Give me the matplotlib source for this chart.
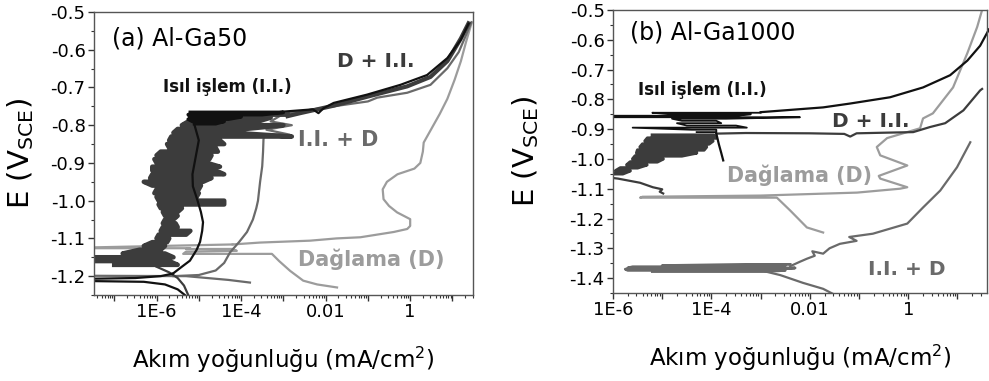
import numpy as np
import matplotlib
matplotlib.use("Agg")
import matplotlib.pyplot as plt
from matplotlib.ticker import FixedLocator, LogLocator, NullFormatter, MultipleLocator

plt.rcParams['font.family'] = ['DejaVu Sans']
plt.rcParams['axes.unicode_minus'] = False

C_HT = '#111111'     # Isıl işlem (I.I.)
C_EHT = '#3c3c3c'    # D + I.I.
C_HTE = '#6a6a6a'    # I.I. + D
C_ETCH = '#9c9c9c'   # Dağlama (D)

# ---------------- (a) Al-Ga50 : log10(i), E ----------------
a_ht_cath_logi = [-5.33, -5.5, -5.8, -6.3, -7.6, -7.6, -6.5, -5.9, -5.61]
a_ht_cath_E = [-1.25, -1.235, -1.222, -1.215, -1.213, -1.207, -1.205, -1.2, -1.193]
a_ht_anod_logi = [-5.61, -5.4, -5.21, -5.05, -4.97, -4.92, -4.9, -4.95, -5.04, -5.14,
                  -5.15, -5.1, -5.05, -5.0, -5.1]
a_ht_anod_E = [-1.193, -1.175, -1.159, -1.13, -1.109, -1.08, -1.057, -1.03, -0.996, -0.962,
               -0.93, -0.9, -0.87, -0.84, -0.80]
a_ht_band_E = [-0.796, -0.790, -0.784, -0.778, -0.772, -0.766]
a_ht_band_lo = [-5.1, -5.15, -5.25, -5.2, -5.25, -5.2]
a_ht_band_hi = [-4.6, -4.4, -4.3, -4.0, -3.5, -3.0]
a_ht_top_logi = [-3.0, -2.3, -2.17, -2.05, -1.81, -1.02, -0.23, 0.4, 0.88, 1.19, 1.38]
a_ht_top_E = [-0.764, -0.758, -0.768, -0.755, -0.741, -0.719, -0.693, -0.667, -0.622, -0.575, -0.531]

a_eht_cath_logi = [-5.25, -5.35, -5.5, -5.7, -6.0]
a_eht_cath_E = [-1.25, -1.225, -1.205, -1.19, -1.175]
a_eht_band_E = [-1.170, -1.160, -1.150, -1.140, -1.130, -1.120, -1.110, -1.100, -1.090,
                -1.080, -1.070, -1.060, -1.050, -1.040, -1.030, -1.020, -1.010, -1.000,
                -0.990, -0.980, -0.970, -0.960, -0.950, -0.940, -0.930, -0.920, -0.910,
                -0.900, -0.890, -0.880, -0.870, -0.860, -0.850, -0.840, -0.830, -0.820,
                -0.810, -0.800, -0.790, -0.780, -0.772]
a_eht_band_lo = [-7.0, -7.6, -7.6, -6.8, -6.4, -6.3, -6.1, -6.0, -5.95, -5.9, -5.85, -5.85,
                 -5.8, -5.8, -5.85, -5.9, -5.95, -5.95, -6.0, -6.05, -6.0, -6.1, -6.3, -6.15,
                 -6.1, -6.1, -6.1, -6.0, -6.05, -6.0, -5.9, -5.7, -5.75, -5.7, -5.65, -5.6,
                 -5.5, -5.4, -5.25, -5.1, -5.2]
a_eht_band_hi = [-5.5, -5.7, -5.6, -5.8, -5.9, -5.8, -5.75, -5.7, -5.3, -5.2, -5.5, -5.55,
                 -5.6, -5.5, -5.5, -5.4, -4.4, -4.4, -5.05, -5.0, -5.0, -4.95, -4.9, -4.7,
                 -4.4, -4.6, -4.5, -4.8, -4.75, -4.7, -4.55, -4.6, -4.4, -4.5, -2.8, -4.2,
                 -3.9, -3.0, -3.6, -3.3, -2.9]
a_eht_top_logi = [-2.9, -2.6, -1.8, -1.0, -0.07, 0.48, 0.88, 1.03, 1.2, 1.38]
a_eht_top_E = [-0.776, -0.768, -0.748, -0.724, -0.697, -0.672, -0.63, -0.602, -0.57, -0.53]

a_hte_cath_logi = [-3.79, -4.3, -4.8, -5.3, -7.6]
a_hte_cath_E = [-1.217, -1.21, -1.205, -1.2, -1.199]
a_hte_anod_logi = [-5.6, -5.0, -4.6, -4.4, -4.26, -4.05, -3.86, -3.72, -3.64, -3.6, -3.55,
                   -3.5, -3.48, -3.47, -3.45, -2.85, -3.4, -2.8, -3.3, -3.0, -2.0, -1.0,
                   -0.78, -0.07, 0.48, 0.88, 1.15, 1.45]
a_hte_anod_E = [-1.2, -1.197, -1.185, -1.165, -1.137, -1.11, -1.083, -1.05, -1.02, -1.0,
                -0.95, -0.909, -0.87, -0.838, -0.825, -0.825, -0.812, -0.80, -0.79, -0.77,
                -0.753, -0.737, -0.727, -0.714, -0.693, -0.649, -0.606, -0.527]

a_etch_cath_logi = [-1.73, -2.2, -2.53, -2.84, -3.1, -3.27, -4.3, -5.37, -5.3, -4.1, -4.2,
                    -5.3, -5.2, -7.6, -7.6, -4.2]
a_etch_cath_E = [-1.23, -1.222, -1.212, -1.186, -1.16, -1.141, -1.141, -1.141, -1.135,
                 -1.133, -1.128, -1.128, -1.126, -1.126, -1.124, -1.116]
a_etch_anod_logi = [-4.2, -3.55, -2.37, -1.74, -1.18, -0.39, -0.07, 0.0, 0.0, -0.31, -0.5,
                    -0.63, -0.65, -0.55, -0.3, 0.1, 0.24, 0.3, 0.32, 0.5, 0.7, 0.88, 1.05,
                    1.2, 1.32, 1.45]
a_etch_anod_E = [-1.116, -1.111, -1.106, -1.1, -1.097, -1.083, -1.075, -1.067, -1.049,
                 -1.031, -1.014, -0.996, -0.97, -0.95, -0.93, -0.915, -0.9, -0.87, -0.846,
                 -0.81, -0.77, -0.73, -0.68, -0.63, -0.58, -0.53]

# ---------------- (b) Al-Ga1000 : log10(i), E ----------------
b_ht_tail_logi = [-3.76, -3.8, -3.85, -3.9]
b_ht_tail_E = [-1.005, -0.98, -0.95, -0.915]
b_ht_band_E = [-0.910, -0.902, -0.895, -0.888, -0.880, -0.872, -0.865, -0.860, -0.855,
               -0.850, -0.845]
b_ht_band_lo = [-4.3, -4.4, -5.6, -4.5, -4.7, -4.6, -4.8, -6.2, -6.2, -4.8, -5.2]
b_ht_band_hi = [-3.9, -3.9, -3.28, -3.5, -3.8, -3.9, -3.7, -2.2, -3.5, -3.2, -3.0]
b_ht_top_logi = [-3.0, -1.73, -1.18, -0.37, 0.3, 0.85, 1.2, 1.46, 1.64]
b_ht_top_E = [-0.843, -0.827, -0.814, -0.793, -0.76, -0.719, -0.67, -0.62, -0.565]

b_eht_cath_logi = [-4.98, -5.05, -5.0, -5.19, -5.45, -5.9, -6.2]
b_eht_cath_E = [-1.116, -1.11, -1.102, -1.095, -1.08, -1.066, -1.06]
b_eht_band_E = [-1.050, -1.040, -1.030, -1.020, -1.010, -1.000, -0.990, -0.980, -0.970,
                -0.960, -0.950, -0.940, -0.930, -0.920]
b_eht_band_lo = [-6.2, -5.95, -5.85, -5.72, -5.65, -5.6, -5.55, -5.52, -5.5, -5.45, -5.4,
                 -5.35, -5.3, -5.2]
b_eht_band_hi = [-5.8, -5.65, -5.5, -5.31, -5.1, -4.98, -4.6, -4.3, -4.15, -4.1, -4.05,
                 -3.97, -3.9, -3.95]
b_eht_top_logi = [-3.9, -3.3, -2.0, -1.3, -1.18, -1.05, -0.5, 0.1, 0.44, 0.75, 1.12, 1.46,
                  1.5]
b_eht_top_E = [-0.915, -0.913, -0.914, -0.916, -0.925, -0.914, -0.912, -0.91, -0.893,
               -0.88, -0.837, -0.77, -0.765]

b_etch_logi = [-1.73, -2.06, -2.4, -2.67, -4.0, -5.45, -5.4, -3.0, -1.04, -0.17, -0.02,
               -0.57, -0.6, -0.02, -0.57, -0.64, -0.43, 0.24, 0.3, 0.5, 0.91, 1.2, 1.4, 1.5]
b_etch_E = [-1.247, -1.23, -1.173, -1.13, -1.13, -1.13, -1.127, -1.123, -1.113, -1.1, -1.095,
            -1.066, -1.057, -1.022, -0.988, -0.96, -0.93, -0.897, -0.864, -0.847, -0.76,
            -0.645, -0.557, -0.5]

b_hte_cath_logi = [-1.53, -1.73, -2.14, -2.6, -2.9]
b_hte_cath_E = [-1.453, -1.436, -1.416, -1.39, -1.378]
b_hte_band_E = [-1.378, -1.374, -1.370, -1.366, -1.362, -1.358, -1.354]
b_hte_band_lo = [-5.2, -5.7, -5.75, -5.7, -5.6, -5.0, -3.3]
b_hte_band_hi = [-2.9, -2.5, -2.6, -2.3, -2.7, -2.5, -2.4]
b_hte_anod_logi = [-2.4, -2.2, -2.06, -1.9, -1.95, -1.73, -1.6, -1.39, -1.05, -1.2, -0.72,
                   -0.37, -0.02, 0.3, 0.65, 0.99, 1.26]
b_hte_anod_E = [-1.36, -1.345, -1.335, -1.325, -1.31, -1.318, -1.3, -1.285, -1.275, -1.262,
                -1.251, -1.234, -1.217, -1.163, -1.106, -1.028, -0.944]


def zigzag(levels, lo, hi):
    # horizontal noise strokes joined at alternating ends
    xs, ys = [], []
    for k, (e, l, h) in enumerate(zip(levels, lo, hi)):
        pair = [l, h] if k % 2 == 0 else [h, l]
        xs += pair
        ys += [e, e]
    return xs, ys


def curve(ax, logi, E, color, lw=1.6, **kw):
    ax.plot(10.0 ** np.asarray(logi), E, color=color, lw=lw, solid_joinstyle='round', **kw)


def style_axes(ax, xlim, ylim, yticks):
    ax.set_xscale('log')
    ax.set_xlim(*xlim)
    ax.set_ylim(*ylim)
    dec = [1e-8, 1e-7, 1e-6, 1e-5, 1e-4, 1e-3, 1e-2, 1e-1, 1, 10, 100]
    ax.xaxis.set_major_locator(FixedLocator(dec))
    lab = {1e-6: '1E-6', 1e-4: '1E-4', 1e-2: '0.01', 1: '1'}
    ax.set_xticklabels([lab.get(d, '') for d in dec])
    ax.xaxis.set_minor_locator(LogLocator(base=10, subs=np.arange(2, 10), numticks=30))
    ax.xaxis.set_minor_formatter(NullFormatter())
    ax.set_yticks(yticks)
    ax.set_yticklabels(['%.1f' % v for v in yticks])
    ax.yaxis.set_minor_locator(MultipleLocator(0.05))
    ax.tick_params(which='major', direction='out', length=4, width=1, color='#333333',
                   labelsize=13, pad=2)
    ax.tick_params(which='minor', direction='out', length=2, width=0.8, color='#333333')
    for s in ax.spines.values():
        s.set_color('#555555')
        s.set_linewidth(1.0)


fig = plt.figure(figsize=(9.89, 3.81), dpi=100)
ax1 = fig.add_axes([0.095, 0.2257, 0.383, 0.7428])
ax2 = fig.add_axes([0.6198, 0.231, 0.3782, 0.7428])

# panel (a)
curve(ax1, a_etch_cath_logi, a_etch_cath_E, C_ETCH)
curve(ax1, a_etch_anod_logi, a_etch_anod_E, C_ETCH)
curve(ax1, a_hte_cath_logi, a_hte_cath_E, C_HTE)
curve(ax1, a_hte_anod_logi, a_hte_anod_E, C_HTE)
curve(ax1, a_eht_cath_logi, a_eht_cath_E, C_EHT)
zx, zy = zigzag(a_eht_band_E, a_eht_band_lo, a_eht_band_hi)
curve(ax1, zx, zy, C_EHT, lw=3.3)
curve(ax1, a_eht_top_logi, a_eht_top_E, C_EHT, lw=3.0)
curve(ax1, a_ht_cath_logi, a_ht_cath_E, C_HT)
curve(ax1, a_ht_anod_logi, a_ht_anod_E, C_HT)
zx, zy = zigzag(a_ht_band_E, a_ht_band_lo, a_ht_band_hi)
curve(ax1, zx, zy, C_HT, lw=2.6)
curve(ax1, a_ht_top_logi, a_ht_top_E, C_HT)

style_axes(ax1, (10 ** -7.48, 10 ** 1.48), (-1.25, -0.5), np.round(np.arange(-0.5, -1.21, -0.1), 1))

ax1.text(10 ** -7.06, -0.569, '(a) Al-Ga50', fontsize=17, va='center', ha='left')
ax1.text(10 ** -1.73, -0.63, 'D + I.I.', fontsize=14.5, fontweight='bold', color=C_EHT,
         va='center', ha='left')
ax1.text(10 ** -5.84, -0.70, 'Isıl işlem (I.I.)', fontsize=12, fontweight='bold', color=C_HT,
         va='center', ha='left')
ax1.text(10 ** -2.65, -0.838, 'I.I. + D', fontsize=15, fontweight='bold', color=C_HTE,
         va='center', ha='left')
ax1.text(10 ** -2.65, -1.154, 'Dağlama (D)', fontsize=15, fontweight='bold', color=C_ETCH,
         va='center', ha='left')

# panel (b)
curve(ax2, b_hte_cath_logi, b_hte_cath_E, C_HTE)
zx, zy = zigzag(b_hte_band_E, b_hte_band_lo, b_hte_band_hi)
curve(ax2, zx, zy, C_HTE, lw=2.0)
curve(ax2, b_hte_anod_logi, b_hte_anod_E, C_HTE)
curve(ax2, b_etch_logi, b_etch_E, C_ETCH)
curve(ax2, b_eht_cath_logi, b_eht_cath_E, C_EHT)
zx, zy = zigzag(b_eht_band_E, b_eht_band_lo, b_eht_band_hi)
curve(ax2, zx, zy, C_EHT, lw=2.4)
curve(ax2, b_eht_top_logi, b_eht_top_E, C_EHT)
curve(ax2, b_ht_tail_logi, b_ht_tail_E, C_HT)
zx, zy = zigzag(b_ht_band_E, b_ht_band_lo, b_ht_band_hi)
curve(ax2, zx, zy, C_HT, lw=1.3)
curve(ax2, b_ht_top_logi, b_ht_top_E, C_HT, clip_on=False)

style_axes(ax2, (1e-6, 10 ** 1.6), (-1.45, -0.5), np.round(np.arange(-0.5, -1.41, -0.1), 1))

ax2.text(10 ** -5.65, -0.577, '(b) Al-Ga1000', fontsize=17, va='center', ha='left')
ax2.text(10 ** -5.49, -0.769, 'Isıl işlem (I.I.)', fontsize=12, fontweight='bold', color=C_HT,
         va='center', ha='left')
ax2.text(10 ** -1.55, -0.874, 'D + I.I.', fontsize=14.5, fontweight='bold', color=C_EHT,
         va='center', ha='left')
ax2.text(10 ** -3.68, -1.056, 'Dağlama (D)', fontsize=14.8, fontweight='bold', color=C_ETCH,
         va='center', ha='left')
ax2.text(10 ** -0.82, -1.372, 'I.I. + D', fontsize=14.5, fontweight='bold', color=C_HTE,
         va='center', ha='left')

for ax, ylx in ((ax1, -0.153), (ax2, -0.193)):
    ax.set_xlabel('Akım yoğunluğu (mA/cm$^2$)', fontsize=16.5)
    ax.set_ylabel('E (V$_{\\mathrm{SCE}}$)', fontsize=21)
    ax.xaxis.set_label_coords(0.5, -0.177)
    ax.yaxis.set_label_coords(ylx, 0.5)

fig.savefig('out.png', dpi=100)
